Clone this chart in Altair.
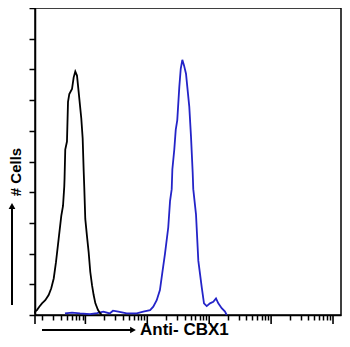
import altair as alt
import pandas as pd

# Isotype control histogram (black)
ctrl_x = [1.53, 1.54, 1.65, 1.80, 1.99, 2.25, 2.55, 2.81, 3.08, 3.35, 3.70, 4.08, 4.35,
          4.56, 4.61, 4.73, 5.04, 5.24, 5.50, 6.08, 6.47, 6.87, 7.32, 7.79, 8.59, 9.04,
          9.39, 9.60, 9.96, 10.6, 11.3, 12.0, 12.8, 13.6, 14.5, 16.0, 17.4, 18.5]
ctrl_y = [0.5, 1.1, 1.6, 2.7, 3.8, 4.8, 6.5, 8.7, 11.9, 17.2, 24.8, 32.3, 35.5,
          41.9, 44.6, 53.9, 56.5, 69.4, 72.0, 73.6, 77.4, 79.3, 78.0, 72.6, 64.0, 57.5,
          46.8, 41.4, 31.3, 25.8, 20.4, 14.0, 9.7, 6.5, 3.8, 1.6, 0.5, 0.0]

# Anti-CBX1 histogram (blue)
cbx_x = [4.68, 6.08, 8.18, 11.9, 15.4, 19.5, 24.7, 27.9, 34.0, 46.5, 67.4, 86.2, 111,
         125, 142, 160, 177, 193, 218, 233, 248, 254, 273, 288, 305, 329, 347, 368,
         392, 422, 443, 477, 508, 541, 553, 612, 667, 757, 824, 912, 1030, 1165, 1288,
         1403, 1592, 1800, 1918]
cbx_y = [0.5, 0.8, 0.5, 0.3, 0.6, 1.1, 0.5, 1.4, 1.1, 0.5, 0.5, 1.1, 1.6,
         2.7, 4.8, 8.1, 14.5, 19.9, 28.5, 37.1, 41.0, 47.4, 53.9, 60.3, 63.5, 74.3, 80.2, 83.1,
         81.3, 78.6, 74.3, 67.8, 58.2, 46.4, 41.0, 32.8, 17.7, 9.1, 3.8, 2.9, 3.8, 4.3, 5.4,
         3.8, 2.2, 1.1, 0.0]

x_domain = [1.535, 134600]
y_domain = [0, 100]
y_ticks = [0, 10, 20, 30, 40, 50, 60, 70, 80, 90, 100]
major_ticks = [1.535, 10, 100, 1000, 10000, 100000]
minor_ticks = [m * 10 ** d for d in range(0, 5) for m in range(2, 10)]

x_title = "Anti- CBX1"
y_title = "# Cells"

W, H = 306, 307

xs = alt.Scale(type="log", domain=x_domain, nice=False)
ys = alt.Scale(domain=y_domain, nice=False)

x_axis = alt.Axis(values=minor_ticks, labels=False, title=None, grid=False,
                  tickSize=5, tickWidth=1.5, tickColor="black",
                  domainColor="black", domainWidth=1.5)
y_axis = alt.Axis(values=y_ticks, labels=False, title=None, grid=False,
                  tickSize=6, tickWidth=1.5, tickColor="black",
                  domainColor="black", domainWidth=1.5)

ctrl_df = pd.DataFrame({"x": ctrl_x, "y": ctrl_y})
cbx_df = pd.DataFrame({"x": cbx_x, "y": cbx_y})

blue = alt.Chart(cbx_df).mark_line(color="#2424c8", strokeWidth=1.8).encode(
    x=alt.X("x:Q", scale=xs, axis=x_axis),
    y=alt.Y("y:Q", scale=ys, axis=y_axis),
    order="x:Q",
)
black = alt.Chart(ctrl_df).mark_line(color="black", strokeWidth=1.8).encode(
    x=alt.X("x:Q", scale=xs, axis=x_axis),
    y=alt.Y("y:Q", scale=ys, axis=y_axis),
    order="x:Q",
)

majors = alt.Chart(pd.DataFrame({"x": major_ticks})).mark_rule(
    color="black", strokeWidth=1.6
).encode(
    x=alt.X("x:Q", scale=xs, axis=x_axis),
    y=alt.value(H),
    y2=alt.value(H + 9),
)

one = pd.DataFrame({"a": [0]})

y_arrow = alt.Chart(one).mark_rule(color="black", strokeWidth=2).encode(
    x=alt.value(-23), y=alt.value(297), y2=alt.value(200))
y_head = alt.Chart(one).mark_point(shape="triangle-up", filled=True, color="black",
                                   opacity=1, size=45).encode(
    x=alt.value(-23), y=alt.value(198))
y_text = alt.Chart(pd.DataFrame({"t": [y_title]})).mark_text(
    angle=270, align="center", baseline="middle", fontSize=15, fontWeight="bold",
    font="Liberation Sans", color="black").encode(
    x=alt.value(-19), y=alt.value(164), text="t:N")

x_arrow = alt.Chart(one).mark_rule(color="black", strokeWidth=2).encode(
    x=alt.value(7), x2=alt.value(96), y=alt.value(322))
x_head = alt.Chart(one).mark_point(shape="triangle-right", filled=True, color="black",
                                   opacity=1, size=45).encode(
    x=alt.value(98), y=alt.value(322))
x_text = alt.Chart(pd.DataFrame({"t": [x_title]})).mark_text(
    align="left", baseline="middle", fontSize=17, fontWeight="bold",
    font="Liberation Sans", color="black").encode(
    x=alt.value(105), y=alt.value(322), text="t:N")

chart = alt.layer(
    blue, black, majors, y_arrow, y_head, y_text, x_arrow, x_head, x_text
).properties(
    width=W, height=H,
    autosize=alt.AutoSizeParams(type="none"),
    padding={"left": 27, "top": 0, "right": 1, "bottom": 24},
).configure_view(
    stroke="black", strokeWidth=1.5
)

chart.save("out.html", embed_options={"renderer": "svg", "actions": False})
